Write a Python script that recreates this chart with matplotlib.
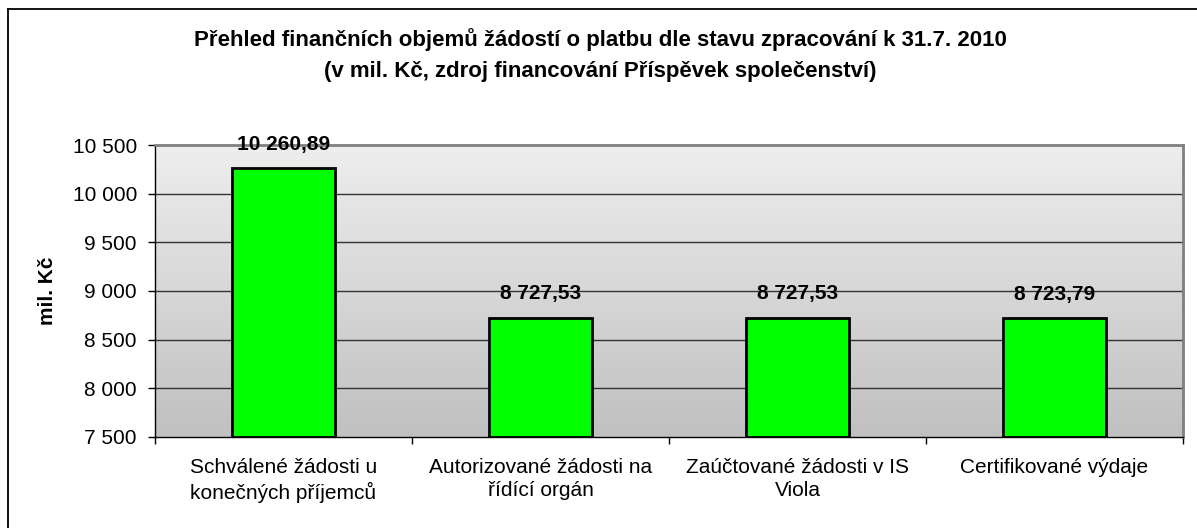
import matplotlib
matplotlib.use("Agg")
import matplotlib.pyplot as plt
import numpy as np
from matplotlib.ticker import FuncFormatter, FixedLocator
from matplotlib.lines import Line2D

plt.rcParams['font.family'] = ['Liberation Sans', 'DejaVu Sans']

categories = [
    "Schválené žádosti u\nkonečných příjemců",
    "Autorizované žádosti na\nřídící orgán",
    "Zaúčtované žádosti v IS\nViola",
    "Certifikované výdaje",
]
values = [10260.89, 8727.53, 8727.53, 8723.79]
y_ticks = [7500, 8000, 8500, 9000, 9500, 10000, 10500]
title_line1 = "Přehled finančních objemů žádostí o platbu dle stavu zpracování k 31.7. 2010"
title_line2 = "(v mil. Kč, zdroj financování Příspěvek společenství)"
y_label = "mil. Kč"

W, H = 1197, 528
fig = plt.figure(figsize=(W / 100, H / 100), dpi=100)
fig.patch.set_facecolor("white")

left, right, top, bottom = 155, 1183, 145, 437
ax = fig.add_axes([left / W, 1 - bottom / H, (right - left) / W, (bottom - top) / H])

ymin, ymax = y_ticks[0], y_ticks[-1]
n = len(categories)
x = np.arange(n)

# gradient background
grad = np.linspace(0, 1, 256).reshape(-1, 1)
c_top = np.array([238, 238, 238]) / 255
c_bot = np.array([192, 192, 192]) / 255
img = c_top[None, None, :] * (1 - grad[:, :, None]) + c_bot[None, None, :] * grad[:, :, None]
ax.imshow(img, extent=[-0.5, n - 0.5, ymin, ymax], aspect='auto', origin='upper', zorder=0)

ax.set_xlim(-0.5, n - 0.5)
ax.set_ylim(ymin, ymax)

for yt in y_ticks[1:-1]:
    ax.axhline(yt, color="#333333", lw=1.0, zorder=1)

bars = ax.bar(x, [v - ymin for v in values], bottom=ymin, width=0.4,
              color="#00FF00", edgecolor="black", linewidth=2.0, zorder=3)

for xi, v in zip(x, values):
    s = f"{v:,.2f}".replace(",", " ").replace(".", ",")
    ax.annotate(s, xy=(xi, v), xytext=(0, 13), textcoords="offset points",
                ha="center", va="baseline", fontsize=15, fontweight="bold",
                color="black", zorder=5)

ax.yaxis.set_major_locator(FixedLocator(y_ticks))
ax.yaxis.set_major_formatter(FuncFormatter(lambda v, p: f"{v:,.0f}".replace(",", " ")))
ax.tick_params(axis="y", which="major", direction="out", length=5, width=1,
               labelsize=15, pad=8, colors="black")

ax.set_xticks(x)
ax.set_xticklabels(categories, fontsize=15, linespacing=1.3)
ax.tick_params(axis="x", which="major", length=0, pad=15)
ax.set_xticks(np.arange(n + 1) - 0.5, minor=True)
ax.tick_params(axis="x", which="minor", direction="out", length=5, width=1, colors="black")

ax.spines["left"].set_color("black")
ax.spines["bottom"].set_color("black")
ax.spines["left"].set_linewidth(1)
ax.spines["bottom"].set_linewidth(1)
ax.spines["top"].set_color("#808080")
ax.spines["right"].set_color("#808080")
ax.spines["top"].set_linewidth(2)
ax.spines["right"].set_linewidth(2)

ax.set_ylabel(y_label, fontsize=15, fontweight="bold", va="center")
ax.yaxis.set_label_coords((47 - left) / (right - left), 0.5)

fig.text(600 / W, 1 - 46 / H, title_line1, ha="center", va="baseline",
         fontsize=16, fontweight="bold")
fig.text(600 / W, 1 - 77 / H, title_line2, ha="center", va="baseline",
         fontsize=16, fontweight="bold")

# outer chart border (top and left visible)
fig.add_artist(Line2D([8 / W, 1.0], [1 - 9 / H, 1 - 9 / H], transform=fig.transFigure,
                      color="black", lw=1.3))
fig.add_artist(Line2D([8 / W, 8 / W], [0.0, 1 - 9 / H], transform=fig.transFigure,
                      color="black", lw=1.3))

fig.savefig("out.png", dpi=100)
